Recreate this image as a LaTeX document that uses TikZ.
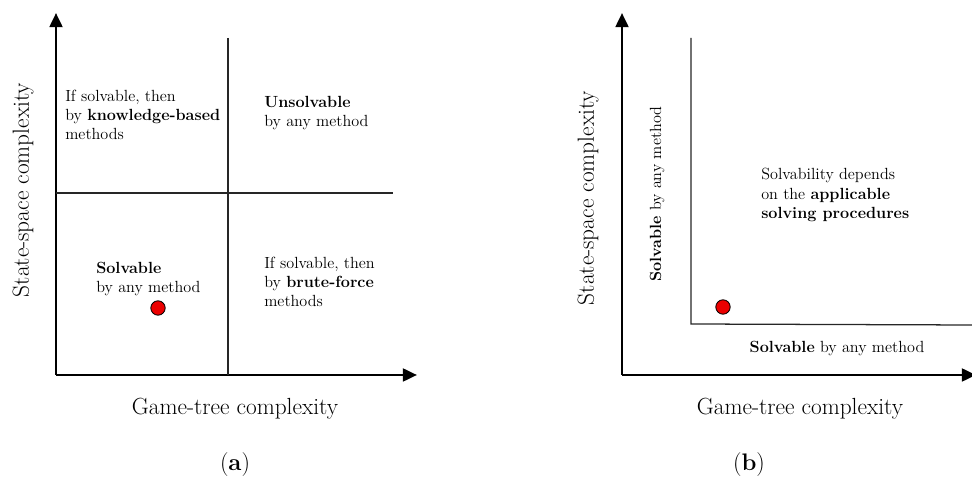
\documentclass[tikz,border=0pt]{standalone}
\usepackage{tikz}
\usetikzlibrary{arrows.meta,positioning}
\definecolor{dotred}{RGB}{235,0,0}

\begin{document}
\begin{tikzpicture}[
	axisline/.style={
		-{Triangle[length=10pt,width=9pt]},
		line width=2pt,
		color=black
	},
	divline/.style={
		line width=0.9pt,
		color=black!85
	},
	regiontext/.style={
		font=\fontsize{11.5}{13.6}\selectfont,
		align=left,
		anchor=west,
		inner sep=0pt
	},
	axislabel/.style={
		font=\fontsize{16.6}{18}\selectfont,
		inner sep=0pt
	},
	panellabel/.style={
		font=\fontsize{17}{19}\selectfont,
		inner sep=0pt
	},
	gamedot/.style={
		circle,
		draw=black,
		fill=dotred,
		line width=0.6pt,
		minimum size=0.36cm,
		inner sep=0pt
	}
	]
	
	\useasboundingbox (0,0) rectangle (24.3,11.925);
	
	% Panel (a) - axes
	\coordinate (oa) at (1.4,2.55);
	\coordinate (ya) at (1.4,11.6);
	\coordinate (xa) at (10.425,2.55);
	\draw[axisline] (oa) -- (ya);
	\draw[axisline] (oa) -- (xa);
	
	% Panel (a) - quadrant lines
	\coordinate (vtop) at (5.7,10.975);
	\coordinate (vbot) at (5.7,2.55);
	\coordinate (hleft) at (1.4,7.1);
	\coordinate (hright) at (9.825,7.1);
	\draw[divline] (vtop) -- (vbot);
	\draw[divline] (hleft) -- (hright);
	
	% Panel (a) - region texts
	\node[regiontext] (knowledge) at (1.625,9.05) {If solvable, then\\by \textbf{knowledge-based}\\methods};
	\node[regiontext] (unsolv) at (6.6,9.09) {\textbf{Unsolvable}\\by any method};
	\node[regiontext] (solva) at (2.4,4.94) {\textbf{Solvable}\\by any method};
	\node[regiontext] (brute) at (6.6,4.875) {If solvable, then\\by \textbf{brute-force}\\methods};
	\node[gamedot] (dota) at (3.95,4.225) {};
	
	% Panel (a) - axis labels
	\node[axislabel, rotate=90] (statea) at (0.575,7.175) {State-space complexity};
	\node[axislabel] (gamea) at (5.875,1.7) {Game-tree complexity};
	\node[panellabel] (capa) at (5.875,0.3) {(\textbf{a})};
	
	% Panel (b) - axes
	\coordinate (ob) at (15.55,2.55);
	\coordinate (yb) at (15.55,11.6);
	\coordinate (xb) at (24.4,2.55);
	\draw[axisline] (ob) -- (yb);
	\draw[axisline] (ob) -- (xb);
	
	% Panel (b) - inner corner
	\coordinate (ctop) at (17.275,10.975);
	\coordinate (ccorner) at (17.275,3.825);
	\coordinate (cright) at (24.3,3.8);
	\draw[divline] (ctop) -- (ccorner) -- (cright);
	
	% Panel (b) - region texts
	\node[regiontext] (depends) at (19.025,7.05) {Solvability depends\\on the \textbf{applicable}\\\textbf{solving procedures}};
	\node[regiontext, anchor=center, rotate=90] (solvside) at (16.425,7.075) {\textbf{Solvable} by any method};
	\node[regiontext, anchor=center] (solvbot) at (20.925,3.2) {\textbf{Solvable} by any method};
	\node[gamedot] (dotb) at (18.075,4.25) {};
	
	% Panel (b) - axis labels
	\node[axislabel, rotate=90] (stateb) at (14.7,6.975) {State-space complexity};
	\node[axislabel] (gameb) at (20.0,1.7) {Game-tree complexity};
	\node[panellabel] (capb) at (18.725,0.3) {(\textbf{b})};
	
\end{tikzpicture}
\end{document}
